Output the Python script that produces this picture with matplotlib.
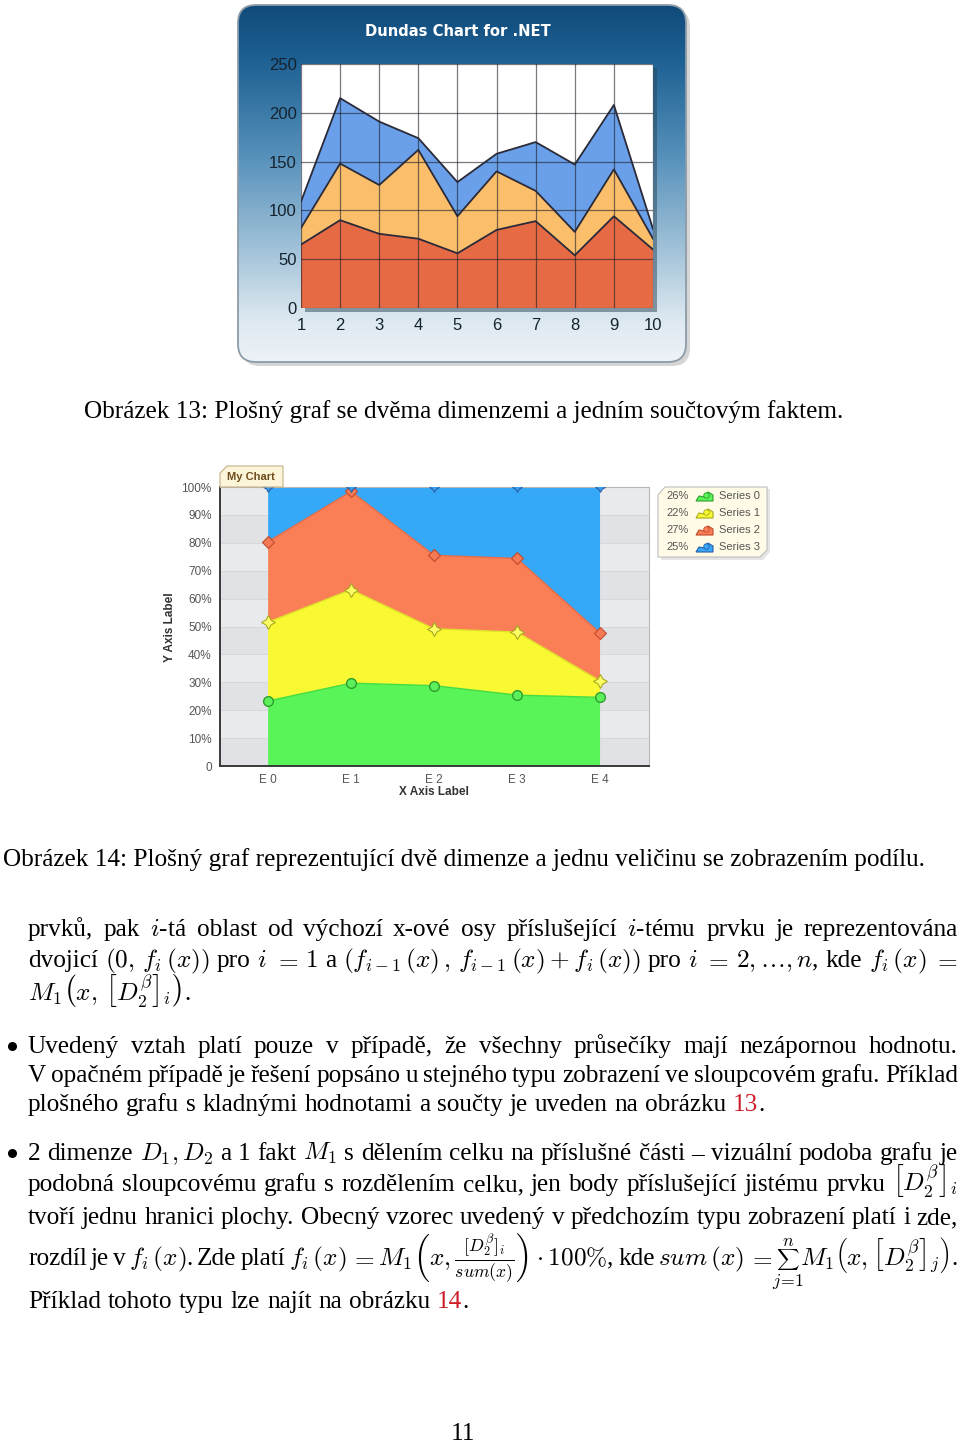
import matplotlib
matplotlib.use('Agg')
import matplotlib.pyplot as plt
import numpy as np
from matplotlib.patches import FancyBboxPatch, Polygon, Rectangle
from matplotlib.colors import LinearSegmentedColormap

plt.rcParams['mathtext.fontset'] = 'cm'
plt.rcParams['font.family'] = ['Liberation Serif', 'DejaVu Serif']

W, H = 960, 1444
SANS = 'Liberation Sans'

# --- chart 1 (Dundas, stacked area) ---
x_points = [1, 2, 3, 4, 5, 6, 7, 8, 9, 10]
series_red = [65, 90, 76, 71, 56, 80, 89, 54, 94, 60]
series_orange = [17, 58, 50, 91, 38, 60, 31, 24, 48, 11]
series_blue = [27, 67, 65, 12, 35, 18, 50, 69, 66, 10]
y_ticks1 = [0, 50, 100, 150, 200, 250]

# --- chart 2 (My Chart, 100% stacked area) ---
categories = ['E 0', 'E 1', 'E 2', 'E 3', 'E 4']
series_names = ['Series 0', 'Series 1', 'Series 2', 'Series 3']
s0 = [23.3, 29.7, 28.8, 25.4, 24.6]
s1 = [28.3, 33.5, 20.4, 22.6, 5.9]
s2 = [28.8, 35.2, 26.3, 26.4, 17.1]
s3 = [19.6, 1.6, 24.5, 25.6, 52.4]
pct_ticks = [0, 10, 20, 30, 40, 50, 60, 70, 80, 90, 100]


def frac(x0, y0, x1, y1):
    return [x0 / W, 1 - y1 / H, (x1 - x0) / W, (y1 - y0) / H]


fig = plt.figure(figsize=(W / 100, H / 100), dpi=100)
fig.patch.set_facecolor('white')

# background overlay in pixel coords
bg = fig.add_axes([0, 0, 1, 1], zorder=0)
bg.axis('off')

# Dundas frame
shadow = FancyBboxPatch((242, 9), 448, 357, boxstyle="round,pad=0,rounding_size=18",
                        facecolor='#888888', edgecolor='none', alpha=0.35, zorder=0)
bg.add_patch(shadow)
frame = FancyBboxPatch((238, 5), 448, 357, boxstyle="round,pad=0,rounding_size=18",
                       facecolor='none', edgecolor='#8d9ca8', lw=1.3, zorder=3)
bg.add_patch(frame)
cmap = LinearSegmentedColormap.from_list('dundas', [
    (0.0, '#104a7a'), (0.15, '#1d6092'), (0.42, '#5590ba'),
    (0.7, '#a6c5da'), (0.88, '#dce8f0'), (1.0, '#eef3f7')])
grad = np.linspace(0, 1, 256).reshape(-1, 1)
im = bg.imshow(grad, cmap=cmap, extent=(238, 686, 362, 5), aspect='auto', zorder=1)
im.set_clip_path(frame)
bg.add_patch(Rectangle((305, 68), 352, 244, facecolor='#2c4658', alpha=0.5,
                       edgecolor='none', zorder=2))
bg.set_xlim(0, W)
bg.set_ylim(H, 0)

# chart 1 axes
ax1 = fig.add_axes(frac(301, 64, 653, 308), zorder=1)
ax1.set_facecolor('white')
stack1 = [series_red, series_orange, series_blue]
ax1.stackplot(x_points, *stack1, colors=['#e66b45', '#fbbe6b', '#6aa0ea'],
              edgecolor='none', zorder=1)
cum = np.cumsum(np.array(stack1), axis=0)
for row in cum:
    ax1.plot(x_points, row, color='#2a2a38', lw=1.3, zorder=3)
ax1.set_xlim(1, 10)
ax1.set_ylim(0, 250)
ax1.set_xticks(x_points)
ax1.set_xticklabels([str(v) for v in x_points], fontfamily=SANS, fontsize=12)
ax1.set_yticks(y_ticks1)
ax1.set_yticklabels([str(v) for v in y_ticks1], fontfamily=SANS, fontsize=12)
ax1.tick_params(length=0, labelcolor='#16222e')
ax1.tick_params(axis='x', pad=7)
ax1.tick_params(axis='y', pad=3)
ax1.set_axisbelow(False)
ax1.grid(True, color='#1e1e28', alpha=0.6, lw=0.9)
for sp in ax1.spines.values():
    sp.set_visible(False)

# chart 2 axes
ax2 = fig.add_axes(frac(220, 487, 649, 766), zorder=1)
ax2.set_facecolor('#e6e7ea')
for i, lo in enumerate(pct_ticks[:-1]):
    ax2.axhspan(lo, pct_ticks[i + 1], color='#e9eaec' if i % 2 else '#e1e2e5',
                lw=0, zorder=0)
xi = np.arange(len(categories))
stack2 = np.array([s0, s1, s2, s3])
shares = stack2 / stack2.sum(axis=0) * 100
cols2 = ['#58f458', '#f8f833', '#fa7f56', '#36a8f8']
ax2.stackplot(xi, *shares, colors=cols2, edgecolor='none', zorder=1)
cum2 = np.cumsum(shares, axis=0)
line_cols = ['#44dd44', '#e0e028', '#e86c45']
for k in range(3):
    ax2.plot(xi, cum2[k], color=line_cols[k], lw=1.0, zorder=2)
ax2.plot(xi, cum2[0], 'o', ms=7, mfc='#5cf05c', mec='#2e9e2e', mew=1, zorder=4)
ax2.plot(xi, cum2[1], marker=(4, 1, 0), ls='none', ms=10, mfc='#ffff66',
         mec='#a8a820', mew=0.8, zorder=4)
ax2.plot(xi, cum2[2], 'D', ms=6.5, mfc='#f47a55', mec='#c04a2c', mew=0.8, zorder=4)
ax2.plot(xi, cum2[3], marker=(4, 1, 0), ls='none', ms=7, mfc='#3aa0f0',
         mec='#2a5ea8', mew=0.8, zorder=4)
ax2.set_xlim(-0.58, 4.59)
ax2.set_ylim(0, 100)
ax2.set_xticks(xi)
ax2.set_xticklabels(categories, fontfamily=SANS, fontsize=8.5)
ax2.set_yticks(pct_ticks)
ax2.set_yticklabels(['0' if v == 0 else f'{v}%' for v in pct_ticks],
                    fontfamily=SANS, fontsize=8.5)
ax2.tick_params(length=0, labelcolor='#555555')
ax2.tick_params(axis='x', pad=6)
ax2.tick_params(axis='y', pad=6)
ax2.grid(axis='y', color='#d4d5d8', lw=0.6)
ax2.set_axisbelow(True)
for s in ['left', 'bottom']:
    ax2.spines[s].set_color('#3a3a3a')
    ax2.spines[s].set_linewidth(1.4)
for s in ['top', 'right']:
    ax2.spines[s].set_color('#b8b8b8')
    ax2.spines[s].set_linewidth(0.8)

# foreground overlay for texts and decorations
fg = fig.add_axes([0, 0, 1, 1], zorder=5)
fg.axis('off')
fg.set_xlim(0, W)
fg.set_ylim(H, 0)

fg.text(458, 31, 'Dundas Chart for .NET', color='white', fontfamily='DejaVu Sans',
        fontweight='bold', fontsize=10.6, ha='center', va='center')

# chart 2 decorations
fg.add_patch(Polygon([(220, 487), (220, 473), (227, 466), (283, 466), (283, 487)],
                     closed=True, facecolor='#fdf5da', edgecolor='#c4b088', lw=0.8))
fg.text(251, 477, 'My Chart', fontfamily=SANS, fontweight='bold', fontsize=8,
        color='#6e4c1c', ha='center', va='center')
fg.text(170, 627, 'Y Axis Label', fontfamily=SANS, fontweight='bold', fontsize=8.5,
        color='#333333', rotation=90, ha='center', va='center')
fg.text(434, 792, 'X Axis Label', fontfamily=SANS, fontweight='bold', fontsize=8.5,
        color='#333333', ha='center', va='center')

fg.add_patch(Polygon([(661, 492), (668, 489), (770, 489), (770, 552), (763, 560), (661, 560)],
                     closed=True, facecolor='#cccccc', edgecolor='none', alpha=0.5))
fg.add_patch(Polygon([(658, 495), (665, 487), (767, 487), (767, 550), (760, 557), (658, 557)],
                     closed=True, facecolor='#fffbe6', edgecolor='#bdbdbd', lw=0.8))
totals = stack2.sum(axis=1)
legend_pct = np.round(totals / totals.sum() * 100).astype(int)
icon_edges = ['#2e9e2e', '#a8a820', '#c04a2c', '#2a5ea8']
for k, name in enumerate(series_names):
    yy = 496 + 17 * k
    fg.text(666, yy, f'{legend_pct[k]}%', fontfamily=SANS, fontsize=8,
            color='#555555', ha='left', va='center')
    fg.add_patch(Polygon([(696, yy + 5), (699, yy), (704, yy + 1), (708, yy - 4),
                          (713, yy - 1), (713, yy + 5)], closed=True,
                         facecolor=cols2[k], edgecolor=icon_edges[k], lw=0.8))
    fg.plot(706, yy - 1.5, marker='o', ms=4, mfc=cols2[k], mec=icon_edges[k], mew=0.6)
    fg.text(719, yy, name, fontfamily=SANS, fontsize=8, color='#555555',
            ha='left', va='center')

# --- page text ---
R = fig.canvas.get_renderer()
cap13 = 'Obrázek 13: Plošný graf se dvěma dimenzemi a jedním součtovým faktem.'
cap14 = 'Obrázek 14: Plošný graf reprezentující dvě dimenze a jednu veličinu se zobrazením podílu.'

probe = fg.text(0, 0, cap14, fontsize=17)
FS = 17 * 925 / probe.get_window_extent(R).width
probe.remove()
SPACE = 0.27 * FS * 100 / 72
RED = '#cc1f2a'

fg.text(464, 418, cap13, fontsize=FS, ha='center', va='baseline')
fg.text(464, 866, cap14, fontsize=FS, ha='center', va='baseline')


def put_line(words, y, x0=28, x1=958, justify=True):
    groups, widths = [], []
    for word in words:
        if isinstance(word, str):
            word = [(word, 'black')]
        parts, ww = [], 0
        for part in word:
            txt, col = part[0], part[1]
            scale = part[2] if len(part) > 2 else 1.0
            a = fg.text(0, y, txt, fontsize=FS * scale, color=col, ha='left', va='baseline')
            w = a.get_window_extent(R).width
            parts.append([a, 0, w])
            ww += w
        groups.append(parts)
        widths.append(ww)
    gap = (x1 - x0 - sum(widths)) / (len(words) - 1) if justify else SPACE
    x = x0
    for parts, ww in zip(groups, widths):
        xx = x
        for p in parts:
            p[0].set_x(xx)
            p[1] = xx
            xx += p[2]
        x += ww + gap
    return groups


put_line(r'prvků, pak $i$-tá oblast od výchozí x-ové osy příslušející $i$-tému prvku je reprezentována'.split(' '), 936)
put_line([r'dvojicí', r'$(0,\,f_i\,(x))$', 'pro', r'$i$', r'$=$', r'$1$', 'a',
          r'$(f_{i-1}\,(x)\,,\,f_{i-1}\,(x)+f_i\,(x))$', 'pro', r'$i$', r'$=$',
          r'$2,\ldots,n$,', 'kde', r'$f_i\,(x)$', r'$=$'], 967)
put_line([r'$M_1\left(x,\,{\left[D_2^{\beta}\right]}_i\right)$.'], 1001, justify=False)

fg.plot(12, 1046, 'o', ms=5.5, color='black')
put_line('Uvedený vztah platí pouze v případě, že všechny průsečíky mají nezápornou hodnotu.'.split(' '), 1053)
put_line('V opačném případě je řešení popsáno u stejného typu zobrazení ve sloupcovém grafu. Příklad'.split(' '), 1082)
put_line('plošného grafu s kladnými hodnotami a součty je uveden na obrázku'.split(' ')
         + [[('13', RED), ('.', 'black')]], 1111, justify=False)

fg.plot(12, 1153, 'o', ms=5.5, color='black')
put_line(['2', 'dimenze', r'$D_1,D_2$', 'a', '1', 'fakt', r'$M_1$', 's', 'dělením', 'celku',
          'na', 'příslušné', 'části', '–', 'vizuální', 'podoba', 'grafu', 'je'], 1160)
put_line('podobná sloupcovému grafu s rozdělením celku, jen body příslušející jistému prvku'.split(' ')
         + [r'${\left[D_2^{\beta}\right]}_i$'], 1191)
put_line('tvoří jednu hranici plochy. Obecný vzorec uvedený v předchozím typu zobrazení platí i zde,'.split(' '), 1224)
g = put_line(['rozdíl', 'je', 'v', r'$f_i\,(x)$.', 'Zde', 'platí', r'$f_i\,(x)$', r'$=$',
              r'$M_1\left(x,\frac{[D_2^{\beta}]_i}{sum(x)}\right)\cdot100\%$,', 'kde',
              r'$sum\,(x)$', r'$=$',
              [(r'$\sum$', 'black', 0.62),
               (r'$M_1\left(x,{\left[D_2^{\beta}\right]}_j\right)$.', 'black')]], 1265)
sum_art, sum_x, sum_w = g[-1][0]
cx = sum_x + sum_w / 2
fg.text(cx, 1246, r'$n$', fontsize=FS * 0.7, ha='center', va='baseline')
fg.text(cx, 1286, r'$j\!=\!1$', fontsize=FS * 0.7, ha='center', va='baseline')
put_line('Příklad tohoto typu lze najít na obrázku'.split(' ')
         + [[('14', RED), ('.', 'black')]], 1308, justify=False)

fg.text(463, 1440, '11', fontsize=FS, ha='center', va='baseline')

fig.savefig('out.png', dpi=100, facecolor='white')
